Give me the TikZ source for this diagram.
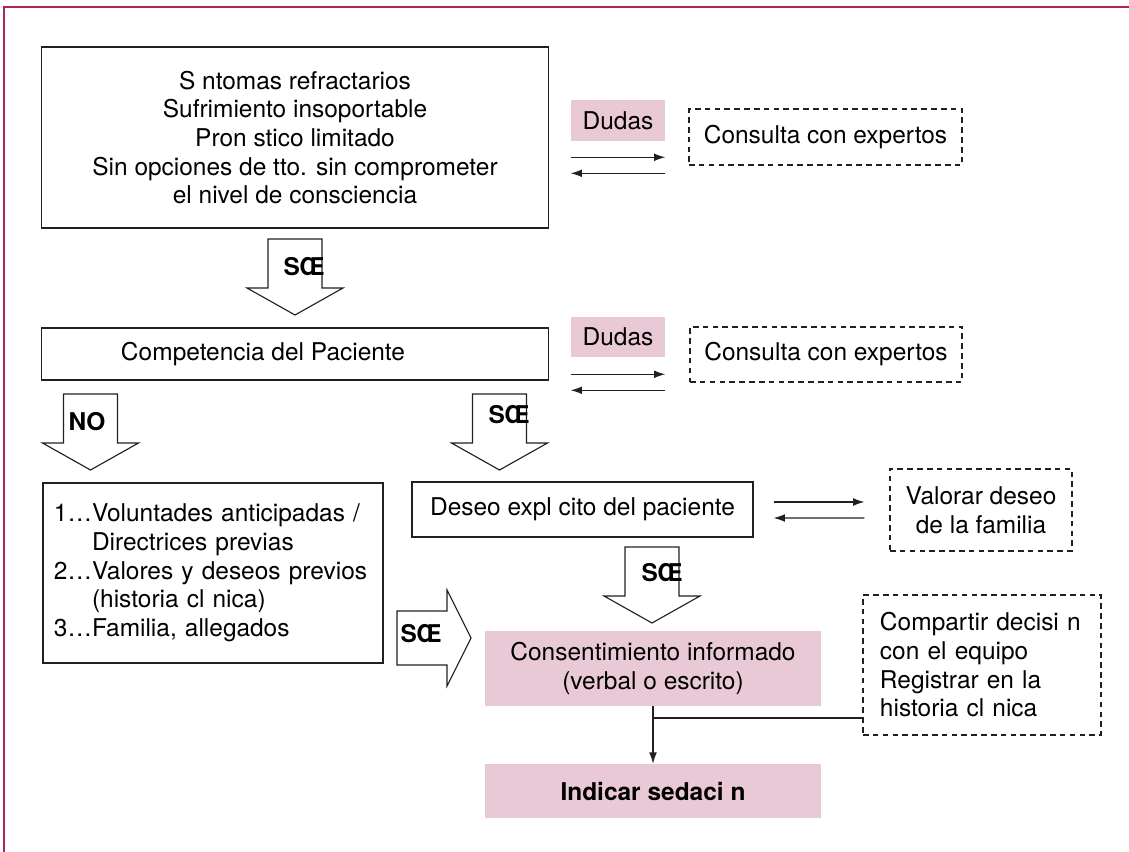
\documentclass[tikz,border=0pt]{standalone}
\usepackage{fontspec}
\setmainfont{TeX Gyre Heros}
\usetikzlibrary{arrows.meta,calc}
\definecolor{rosa}{RGB}{234,201,215}
\definecolor{marco}{RGB}{178,32,96}
\definecolor{linea}{RGB}{35,31,32}

\begin{document}
\begin{tikzpicture}[x=0.025cm,y=-0.025cm,
	caja/.style={draw=linea,line width=0.8pt,font=\fontsize{17.4}{20.4}\selectfont,align=center,inner sep=0pt},
	dudoso/.style={caja,dash pattern=on 4pt off 3pt},
	rosado/.style={fill=rosa,font=\fontsize{17.4}{20.4}\selectfont,align=center,inner sep=0pt},
	etiq/.style={font=\fontsize{17.4}{20.4}\selectfont\bfseries,inner sep=0pt},
	flecha/.style={draw=linea,line width=0.8pt,-{Latex[length=8pt,width=5.5pt]}},
	bajada/.pic={\draw[linea,line width=0.8pt,fill=white] (-27,0) -- (27,0) -- (27,49) -- (48,49) -- (0,76) -- (-48,49) -- (-27,49) -- cycle;},
	avance/.pic={\draw[linea,line width=0.8pt,fill=white] (0,-27) -- (50,-27) -- (50,-48) -- (74,0) -- (50,48) -- (50,27) -- (0,27) -- cycle;}
]
	\useasboundingbox (0,0) rectangle (1129,852);
	\draw[marco,line width=1.2pt] (4,852) -- (4,7) -- (1129,7);

	% primer bloque
	\node[caja,minimum width=12.65cm,minimum height=4.525cm] (sintomas) at (295,137.5) {S ntomas refractarios\\Sufrimiento insoportable\\Pron stico limitado\\Sin opciones de tto. sin comprometer\\el nivel de consciencia};
	\node[rosado,minimum width=2.35cm,minimum height=1.025cm] (dudas1) at (618,120.5) {Dudas};
	\node[dudoso,minimum width=6.825cm,minimum height=1.4cm] (consulta1) at (825.5,137) {Consulta con expertos};
	\draw[flecha] ($(dudas1.south west)+(0,16)$) -- ($(dudas1.south east)+(0,16)$);
	\draw[flecha] ($(dudas1.south east)+(0,32)$) -- ($(dudas1.south west)+(0,32)$);

	\pic at (295,239) {bajada};
	\node[etiq] (si1) at (304,267) {SŒ};

	% competencia
	\node[caja,minimum width=12.65cm,minimum height=1.3cm] (competencia) at (295,354) {Competencia del Paciente\hspace{1.6cm}};
	\node[rosado,minimum width=2.35cm,minimum height=1cm] (dudas2) at (618,337) {Dudas};
	\node[dudoso,minimum width=6.8cm,minimum height=1.375cm] (consulta2) at (826,354.5) {Consulta con expertos};
	\draw[flecha] ($(dudas2.south west)+(0,17)$) -- ($(dudas2.south east)+(0,17)$);
	\draw[flecha] ($(dudas2.south east)+(0,33)$) -- ($(dudas2.south west)+(0,33)$);

	\pic at (90.5,394) {bajada};
	\node[etiq] (no) at (87,422) {NO};
	\pic at (499.5,394) {bajada};
	\node[etiq] (si2) at (509,415) {SŒ};

	% paciente no competente
	\node[caja,minimum width=8.5cm,minimum height=4.5cm,text width=7.95cm,inner xsep=0.275cm,align=left] (previas) at (213,573) {1…Voluntades anticipadas /\\\phantom{1…}Directrices previas\\2…Valores y deseos previos\\\phantom{2…}(historia cl nica)\\3…Familia, allegados};
	\pic at (397,638) {avance};
	\node[etiq] (si4) at (421,634) {SŒ};

	% paciente competente
	\node[caja,minimum width=8.525cm,minimum height=1.375cm] (deseo) at (582.5,509.5) {Deseo expl cito del paciente};
	\node[dudoso,minimum width=4.55cm,minimum height=2.05cm] (valorar) at (981,510) {Valorar deseo\\de la familia};
	\draw[flecha] ($(deseo.east)+(20,-7.5)$) -- ($(valorar.west)+(-25,-8)$);
	\draw[flecha] ($(valorar.west)+(-25,8)$) -- ($(deseo.east)+(20,8.5)$);

	\pic at (652,547) {bajada};
	\node[etiq] (si3) at (662,573) {SŒ};

	% consentimiento
	\node[rosado,minimum width=8.4cm,minimum height=1.875cm] (consent) at (653,668.5) {Consentimiento informado\\(verbal o escrito)};
	\node[rosado,minimum width=8.4cm,minimum height=1.35cm,font=\fontsize{17.4}{20.4}\selectfont\bfseries] (indicar) at (653,791) {Indicar sedaci n};
	\node[dudoso,minimum width=5.95cm,minimum height=3.5cm,text width=5.1cm,inner xsep=0.425cm,align=left] (compartir) at (982,665) {Compartir decisi n\\con el equipo\\Registrar en la\\historia cl nica};
	\draw[flecha] (consent) -- (indicar);
	\coordinate (union) at ($(compartir.west)+(0,53)$);
	\draw[linea,line width=0.8pt] (union) -- (union -| consent.south);

\end{tikzpicture}
\end{document}
